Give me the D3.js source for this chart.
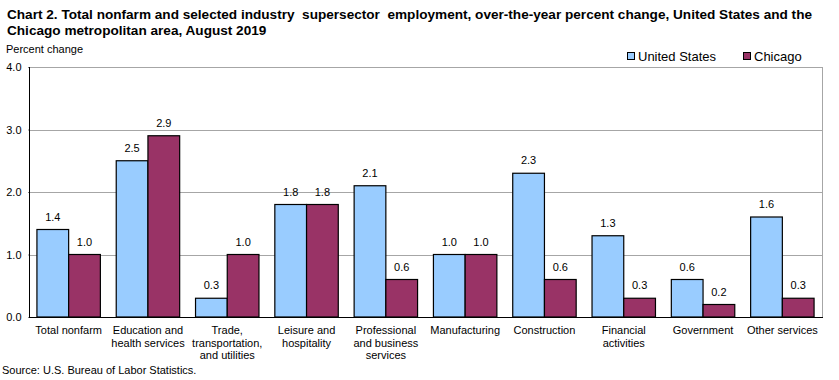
<!DOCTYPE html>
<html>
<head>
<meta charset="utf-8">
<script src="https://cdn.jsdelivr.net/npm/d3@7"></script>
<style>
  body { margin: 0; background: #fff; }
  text { font-family: Arial, "Liberation Sans", sans-serif; fill: #000; }
</style>
</head>
<body>
<svg id="chart"></svg>
<script>
var categories = [
  ["Total nonfarm"],
  ["Education and", "health services"],
  ["Trade,", "transportation,", "and utilities"],
  ["Leisure and", "hospitality"],
  ["Professional", "and business", "services"],
  ["Manufacturing"],
  ["Construction"],
  ["Financial", "activities"],
  ["Government"],
  ["Other services"]
];
var seriesNames = ["United States", "Chicago"];
var usValues = [1.4, 2.5, 0.3, 1.8, 2.1, 1.0, 2.3, 1.3, 0.6, 1.6];
var chicagoValues = [1.0, 2.9, 1.0, 1.8, 0.6, 1.0, 0.6, 0.3, 0.2, 0.3];
var yTicks = [0, 1, 2, 3, 4];
var colors = ["#99ccff", "#993366"];

function createChart(width, height) {
  var left = 29, right = 822, top = 67, bottom = 317;

  var svg = d3.select("#chart")
  .attr("width", width)
  .attr("height", height);

  svg.append("text")
  .attr("x", 7).attr("y", 19)
  .style("font-size", "13.6px").style("font-weight", "bold")
  .style("white-space", "pre")
  .text("Chart 2. Total nonfarm and selected industry  supersector  employment, over-the-year percent change, United States and the");
  svg.append("text")
  .attr("x", 7).attr("y", 35)
  .style("font-size", "13.6px").style("font-weight", "bold")
  .text("Chicago metropolitan area, August 2019");

  svg.append("text")
  .attr("x", 6).attr("y", 53)
  .style("font-size", "11px")
  .text("Percent change");

  var idx = d3.range(categories.length);
  var x = d3.scaleBand().domain(idx).range([left, right]).paddingInner(0.2).paddingOuter(0.1);
  var xs = d3.scaleBand().domain([0, 1]).range([0, x.bandwidth()]);
  var y = d3.scaleLinear().domain([0, 4]).range([bottom, top]);

  // gridlines
  svg.append("g")
    .selectAll("line")
    .data(yTicks.slice(1))
    .enter().append("line")
      .attr("x1", left).attr("x2", right)
      .attr("y1", d => Math.round(y(d)) + 0.5).attr("y2", d => Math.round(y(d)) + 0.5)
      .attr("stroke", "#a6a6a6");

  // right border
  svg.append("line")
  .attr("x1", right + 0.5).attr("x2", right + 0.5)
  .attr("y1", y(4)).attr("y2", bottom)
  .attr("stroke", "#a6a6a6");

  var yAxis = svg.append("g")
  .attr("transform", "translate(" + (left + 0.5) + ",0)")
  .call(d3.axisLeft(y).tickValues(yTicks).tickFormat(d3.format(".1f")).tickSize(4));
  yAxis.select(".domain").remove();
  yAxis.selectAll("text").style("font-size", "11px").attr("x", -8).attr("fill", "#000");
  yAxis.selectAll("line").attr("stroke", "#000").attr("x2", 0).attr("x1", -1);

  var groups = svg.append("g")
    .selectAll("g")
    .data(idx)
    .enter().append("g")
      .attr("transform", d => "translate(" + x(d) + ",0)");

  groups.selectAll("rect")
    .data(d => [usValues[d], chicagoValues[d]])
    .enter().append("rect")
      .attr("x", (d, i) => xs(i))
      .attr("y", d => y(d))
      .attr("width", xs.bandwidth())
      .attr("height", d => bottom - y(d))
      .attr("fill", (d, i) => colors[i])
      .attr("stroke", "#000")
      .attr("stroke-width", 1.2);

  groups.selectAll("text.val")
    .data(d => [usValues[d], chicagoValues[d]])
    .enter().append("text")
      .attr("class", "val")
      .attr("x", (d, i) => xs(i) + xs.bandwidth() / 2)
      .attr("y", d => y(d) - 9)
      .attr("text-anchor", "middle")
      .style("font-size", "11px")
      .text(d => d3.format(".1f")(d));

  // axis lines
  svg.append("line")
  .attr("x1", left + 0.5).attr("x2", left + 0.5)
  .attr("y1", y(4)).attr("y2", bottom + 1)
  .attr("stroke", "#000");
  svg.append("line")
  .attr("x1", left).attr("x2", right + 1)
  .attr("y1", bottom + 0.5).attr("y2", bottom + 0.5)
  .attr("stroke", "#000");

  // category labels
  groups.each(function(d) {
    var t = d3.select(this).append("text")
      .attr("text-anchor", "middle")
      .style("font-size", "11px");
    categories[d].forEach(function(line, k) {
      t.append("tspan")
        .attr("x", x.bandwidth() / 2)
        .attr("y", 334 + k * 12.5)
        .text(line);
    });
  });

  // legend
  var legendX = [627, 743];
  var legend = svg.append("g");
  seriesNames.forEach(function(name, i) {
    legend.append("rect")
      .attr("x", legendX[i] + 0.5).attr("y", 52.5)
      .attr("width", 7).attr("height", 7)
      .attr("fill", colors[i]).attr("stroke", "#000");
    legend.append("text")
      .attr("x", legendX[i] + 11).attr("y", 61)
      .style("font-size", "13px")
      .text(name);
  });

  svg.append("text")
  .attr("x", 2).attr("y", 374)
  .style("font-size", "11px")
  .text("Source: U.S. Bureau of Labor Statistics.");
}

createChart(839, 380);
</script>
</body>
</html>
